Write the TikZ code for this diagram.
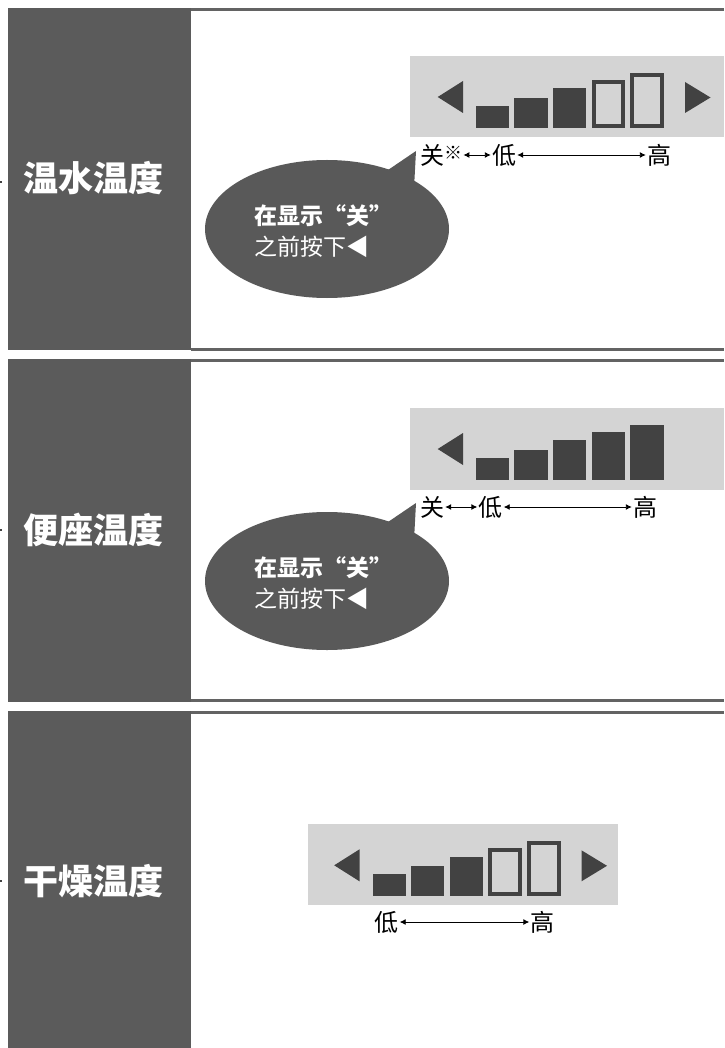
\documentclass[tikz,border=0pt]{standalone}
\usepackage{fontspec}
\newfontfamily\cjk{Noto Sans CJK SC}
\usetikzlibrary{arrows.meta}
\definecolor{sidec}{HTML}{5B5B5B}
\definecolor{rulec}{HTML}{636363}
\definecolor{panelc}{HTML}{D4D4D4}
\definecolor{barc}{HTML}{424242}
\definecolor{bubblec}{HTML}{595959}
\tikzset{
  sidebar/.style={fill=sidec},
  sectrule/.style={draw=rulec,line width=3pt},
  panelbox/.style={fill=panelc},
  fullbar/.style={fill=barc},
  openbar/.style={draw=barc,line width=4pt},
  tri/.style={fill=barc},
  titletext/.style={font=\cjk\bfseries\fontsize{35}{35}\selectfont,text=white,inner sep=0pt},
  lbl/.style={font=\cjk\fontsize{24}{24}\selectfont,inner sep=1pt},
  dimarrow/.style={{Latex[length=6pt,width=6pt]}-{Latex[length=6pt,width=6pt]},line width=0.9pt},
  bubble/.style={fill=bubblec},
  bubbletext/.style={font=\cjk\fontsize{23}{31}\selectfont,text=white,align=left,inner sep=0pt},
}
\newcommand{\displaybars}[2]{%
  \fill[tri] (437.7,97) -- (463,81) -- (463,113) -- cycle;
  \fill[fullbar] (476,106) rectangle (509,128);
  \fill[fullbar] (514.3,97.7) rectangle (547.7,128);
  \fill[fullbar] (553,88.3) rectangle (586,128);
  #1
  #2
}
\newcommand{\openbars}{%
  \draw[openbar] (593.7,82) rectangle (623,126);
  \draw[openbar] (632,74.7) rectangle (662,126);
  \fill[tri] (685,82) -- (685,113) -- (710.5,97.5) -- cycle;
}
\newcommand{\solidbars}{%
  \fill[fullbar] (591.7,80.4) rectangle (625,128);
  \fill[fullbar] (630,73) rectangle (664,128);
}
\begin{document}
\begin{tikzpicture}[x=1pt,y=-1pt]
\useasboundingbox (0,0) rectangle (724,1048);
\fill[white] (0,0) rectangle (724,1048);

% ---------- sidebars and rules ----------
\fill[sidebar] (8,8) rectangle (191,350);
\fill[sidebar] (8,359) rectangle (191,702);
\fill[sidebar] (8,711) rectangle (191,1048);
\draw[sectrule] (191,9.5) -- (724,9.5);
\draw[sectrule] (191,349) -- (724,349);
\draw[sectrule] (191,360.5) -- (724,360.5);
\draw[sectrule] (191,700.5) -- (724,700.5);
\draw[sectrule] (191,712) -- (724,712);
\fill[barc] (0,181) rectangle (2,183);
\fill[barc] (0,529) rectangle (2,531);
\fill[barc] (0,880) rectangle (2,882);

\node[titletext] (t1) at (93,178) {温水温度};
\node[titletext] (t2) at (93,530) {便座温度};
\node[titletext] (t3) at (93,881) {干燥温度};

% ---------- section 1 ----------
\fill[panelbox] (410,56) rectangle (724,137);
\displaybars{\openbars}{}
\node[lbl,anchor=west] (off1) at (419,155) {关\raisebox{5pt}{\fontsize{18}{18}\selectfont ※}};
\node[lbl] (low1) at (504,155) {低};
\node[lbl] (high1) at (659,155) {高};
\draw[dimarrow] (off1.east) -- (low1.west);
\draw[dimarrow] (low1.east) -- (high1.west);

\fill[bubble] (327,229) ellipse [x radius=122pt, y radius=69pt];
\fill[bubble] (388,170) -- (416,151) -- (414,188) -- cycle;
\node[bubbletext,anchor=west] (b1) at (254,231) {{\bfseries 在显示“关”}\\之前按下◀};

% ---------- section 2 ----------
\fill[panelbox] (410,408) rectangle (724,490);
\begin{scope}[shift={(0,352)}]
\displaybars{\solidbars}{}
\end{scope}
\node[lbl] (off2) at (432,507) {关};
\node[lbl] (low2) at (490.5,507) {低};
\node[lbl] (high2) at (645,507) {高};
\draw[dimarrow] (off2.east) -- (low2.west);
\draw[dimarrow] (low2.east) -- (high2.west);

\fill[bubble] (327,581) ellipse [x radius=122pt, y radius=69pt];
\fill[bubble] (388,522) -- (416,503) -- (414,540) -- cycle;
\node[bubbletext,anchor=west] (b2) at (254,583) {{\bfseries 在显示“关”}\\之前按下◀};

% ---------- section 3 ----------
\fill[panelbox] (308,824) rectangle (618,905);
\begin{scope}[shift={(-103.5,768.3)}]
\displaybars{\openbars}{}
\end{scope}
\node[lbl] (low3) at (386.5,922) {低};
\node[lbl] (high3) at (542.5,922) {高};
\draw[dimarrow] (low3.east) -- (high3.west);
\end{tikzpicture}
\end{document}
